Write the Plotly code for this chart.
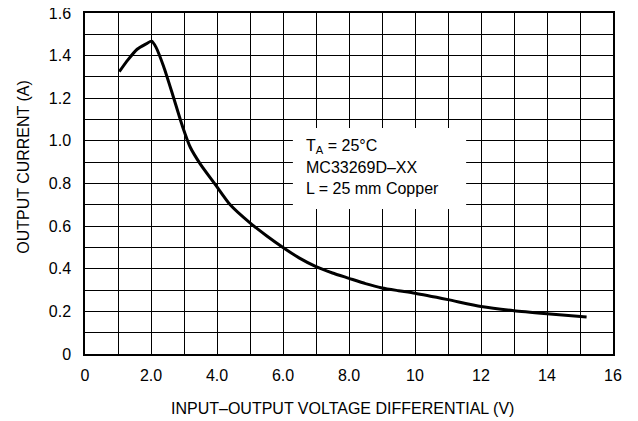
import plotly.graph_objects as go

voltage = [1.04, 1.3, 1.58, 1.85, 2.02, 2.15, 2.38, 2.65, 2.95, 3.19, 3.5, 3.95, 4.4, 5.0, 5.5, 6.0, 6.5, 7.0, 7.5, 8.0, 8.5, 9.0, 9.5, 10.0, 11.0, 12.0, 13.0, 14.0, 15.2]
current = [1.325, 1.38, 1.43, 1.455, 1.468, 1.44, 1.35, 1.22, 1.07, 0.97, 0.89, 0.795, 0.70, 0.615, 0.555, 0.50, 0.45, 0.41, 0.38, 0.355, 0.33, 0.31, 0.297, 0.285, 0.255, 0.223, 0.203, 0.189, 0.174]

x_ticks = [0, 2, 4, 6, 8, 10, 12, 14, 16]
x_labels = ["0", "2.0", "4.0", "6.0", "8.0", "10", "12", "14", "16"]
y_ticks = [0, 0.2, 0.4, 0.6, 0.8, 1.0, 1.2, 1.4, 1.6]
y_labels = ["0", "0.2", "0.4", "0.6", "0.8", "1.0", "1.2", "1.4", "1.6"]

note_lines = ["T<sub>A</sub> = 25°C", "MC33269D–XX", "L = 25 mm Copper"]
x_title = "INPUT–OUTPUT VOLTAGE DIFFERENTIAL (V)"
y_title = "OUTPUT CURRENT (A)"

font = "Liberation Sans, Arial, sans-serif"
fs = 16

fig = go.Figure()
fig.add_trace(go.Scatter(x=voltage, y=current, mode="lines",
                         line=dict(color="black", width=3, shape="spline", smoothing=0.6),
                         hoverinfo="skip", showlegend=False))

fig.add_shape(type="rect", xref="x", yref="y", x0=6.3, x1=11.55, y0=0.68, y1=1.06,
              fillcolor="white", line=dict(width=0), layer="above")

for i, t in enumerate(note_lines):
    fig.add_annotation(x=6.65, y=0.975 - i * 0.1, xref="x", yref="y", text=t,
                       showarrow=False, xanchor="left", yanchor="middle",
                       font=dict(family=font, size=fs, color="black"))

fig.add_annotation(x=0.487, y=-0.160, xref="paper", yref="paper", text=x_title,
                   showarrow=False, xanchor="center", yanchor="middle",
                   font=dict(family=font, size=fs, color="black"))
fig.add_annotation(x=(24 - 85) / 528, y=0.549, xref="paper", yref="paper", text=y_title,
                   showarrow=False, xanchor="center", yanchor="middle", textangle=-90,
                   font=dict(family=font, size=fs, color="black"))

common = dict(showgrid=True, gridcolor="black", gridwidth=1, zeroline=False, showline=True,
              linecolor="black", linewidth=1.5, mirror=True, ticks="", automargin=False,
              ticklabeloverflow="allow",
              tickfont=dict(family=font, size=fs, color="black"))
fig.update_xaxes(range=[0, 16], tickvals=x_ticks, ticktext=x_labels, ticklabelstandoff=6,
                 minor=dict(dtick=1, tick0=0, showgrid=True, gridcolor="black", gridwidth=1, ticks=""),
                 **common)
fig.update_yaxes(range=[0, 1.6], tickvals=y_ticks, ticktext=y_labels, ticklabelstandoff=9,
                 minor=dict(dtick=0.1, tick0=0, showgrid=True, gridcolor="black", gridwidth=1, ticks=""),
                 **common)

# page body has an 8px margin, so the figure is shrunk by 8px and margins offset accordingly
fig.update_layout(width=630, height=413, margin=dict(l=77, r=25, t=5, b=67),
                  plot_bgcolor="white", paper_bgcolor="white")

fig.write_html("out.html")
